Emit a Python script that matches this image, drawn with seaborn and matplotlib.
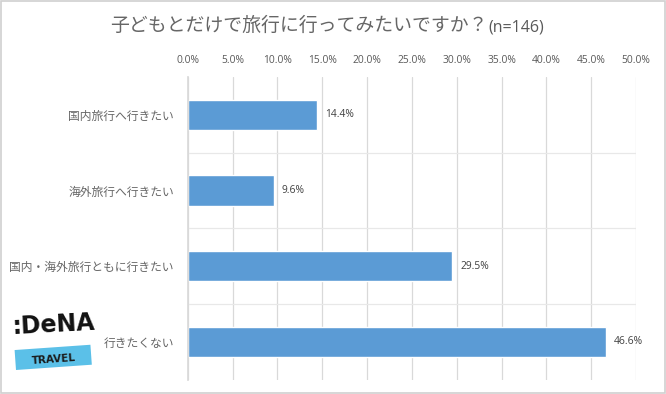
import numpy as np
import pandas as pd
import matplotlib
matplotlib.use('Agg')
import matplotlib.pyplot as plt
from matplotlib.patches import Rectangle
from matplotlib.transforms import IdentityTransform
import seaborn as sns

# data
categories = ['国内旅行へ行きたい', '海外旅行へ行きたい', '国内・海外旅行ともに行きたい', '行きたくない']
values = [14.4, 9.6, 29.5, 46.6]
x_ticks = [0, 5, 10, 15, 20, 25, 30, 35, 40, 45, 50]
title_main = '子どもとだけで旅行に行ってみたいですか？'
title_n = '(n=146)'

sns.set_theme(style='white')
plt.rcParams['font.family'] = ['Noto Sans CJK JP', 'DejaVu Sans']

grey = '#595959'
bar_color = '#5B9BD5'

df = pd.DataFrame({'category': categories, 'value': values})

fig = plt.figure(figsize=(6.66, 3.94), dpi=100)
ax = fig.add_axes([0.282, 0.036, 0.673, 0.769])

sns.barplot(data=df, x='value', y='category', color=bar_color, width=0.4,
            saturation=1, ax=ax)

ax.set_xlim(0, 50)
ax.set_ylim(3.5, -0.5)
ax.set_xticks(x_ticks)
ax.set_xticklabels(['{:.1f}%'.format(t) for t in x_ticks], fontsize=7.4,
                   color=grey, family=['Open Sans', 'DejaVu Sans'])
ax.xaxis.tick_top()
ax.tick_params(axis='x', length=0, pad=8)
ax.tick_params(axis='y', length=0, pad=10, labelsize=8.5, labelcolor='#666666')
ax.set_xlabel('')
ax.set_ylabel('')

ax.set_yticks([0.5, 1.5, 2.5], minor=True)
ax.grid(axis='x', color='#d9d9d9', lw=0.9)
ax.grid(axis='y', which='minor', color='#e8e8e8', lw=0.9)
ax.grid(axis='y', which='major', visible=False)
for side in ['top', 'right', 'bottom']:
    ax.spines[side].set_visible(False)
ax.spines['left'].set_color('#d9d9d9')
ax.set_axisbelow(True)

for i, v in enumerate(values):
    ax.text(v + 0.9, i, '{:.1f}%'.format(v), va='center', ha='left',
            fontsize=7.4, color='#404040', family=['Open Sans', 'DejaVu Sans'])

# title
fig.text(0.732, 0.935, title_main, ha='right', va='center', fontsize=13.6,
         color='#666666')
fig.text(0.733, 0.93, title_n, ha='left', va='center', fontsize=11.5,
         color=grey, family=['Open Sans', 'DejaVu Sans'])

# logo
fig.text(0.08, 0.175, ':DeNA', ha='center', va='center', fontsize=17,
         fontweight='bold', color='#111111', rotation=3,
         family=['DejaVu Sans'])
fig.patches.append(Rectangle((16, 24), 76, 20, angle=4,
                             transform=IdentityTransform(),
                             fc='#5BC0E8', ec='none'))
fig.text(0.081, 0.088, 'TRAVEL', ha='center', va='center', fontsize=7.5,
         fontweight='bold', color='#1a1a1a', rotation=4,
         family=['DejaVu Sans'])

# frame
fig.patches.append(Rectangle((0.002, 0.003), 0.996, 0.994, transform=fig.transFigure,
                             fill=False, ec='#d0d0d0', lw=1.2))

plt.savefig('out.png', dpi=100)
